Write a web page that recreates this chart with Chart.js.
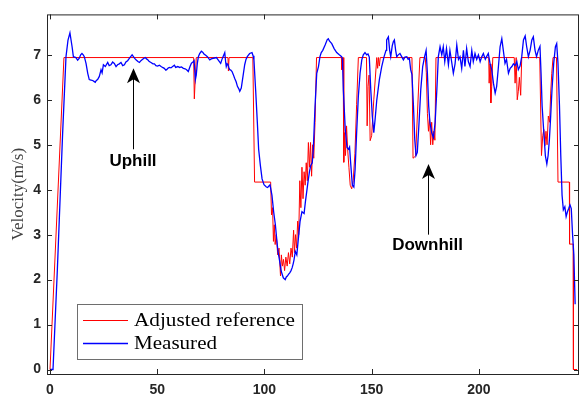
<!DOCTYPE html>
<html>
<head>
<meta charset="utf-8">
<title>Velocity</title>
<script src="https://cdn.jsdelivr.net/npm/chart.js@4.4.1/dist/chart.umd.min.js"></script>
<style>
  html, body { margin: 0; padding: 0; background: #fff; }
</style>
</head>
<body>
<canvas id="velocityChart" width="580" height="397"></canvas>
<script>
// Reference speed (red) - time in s, speed in m/s
const refTime = [
  0, 6.5, 67.0, 67.3, 68.2, 83.0, 83.2, 83.5, 94.6, 95.4,
  102.9, 103.3, 103.8, 104.2, 104.6, 105.0, 105.5, 106.2, 106.8, 107.5,
  107.9, 108.4, 108.9, 109.4, 110.0, 110.6, 111.2, 111.8, 112.4, 113.0,
  113.6, 114.0, 114.5, 115.0, 115.5, 116.0, 116.5, 117.0, 117.5, 118.0,
  118.5, 119.0, 119.5, 120.0, 120.5, 121.0, 121.5, 122.0, 122.5, 123.0,
  123.6, 124.3, 135.9, 136.1, 136.3, 136.7, 137.0, 137.4, 137.8, 138.3,
  138.8, 139.4, 140.0, 140.7, 141.4, 142.2, 143.0, 143.8, 147.6, 147.9,
  148.3, 148.8, 149.3, 150.0, 151.0, 152.4, 152.8, 153.2, 153.6, 154.0,
  168.8, 169.3, 170.5, 172.5, 175.0, 175.5, 176.0, 176.5, 177.0, 177.5,
  178.0, 178.5, 179.0, 179.5, 180.0, 204.6, 204.8, 205.2, 205.6, 206.0,
  206.5, 216.5, 216.9, 217.4, 217.9, 218.4, 218.9, 219.5, 220.0, 228.4,
  229.2, 229.8, 230.3, 230.8, 231.3, 231.8, 232.4, 233.0, 233.5, 234.0,
  234.6, 236.2, 236.9, 242.2, 242.3, 244.0, 244.1, 245.8
];
const refSpeed = [
  0, 6.94, 6.94, 6.02, 6.94, 6.94, 6.64, 6.94, 6.94, 4.17,
  4.17, 3.44, 3.6, 2.85, 3.22, 2.78, 3.0, 2.55, 2.7, 2.08,
  2.55, 2.3, 2.45, 2.2, 2.5, 2.3, 2.6, 2.35, 2.7, 2.5,
  3.1, 2.6, 3.0, 2.7, 3.3, 3.0, 4.2, 3.6, 4.5, 3.8,
  4.4, 4.1, 4.6, 4.2, 5.05, 4.5, 5.05, 4.3, 5.0, 4.7,
  5.5, 6.94, 6.94, 6.67, 6.94, 6.94, 4.61, 5.27, 4.76, 5.42,
  4.9, 4.5, 4.1, 4.02, 4.2, 4.8, 5.9, 6.94, 6.94, 5.42,
  6.3, 6.55, 5.09, 5.2, 6.0, 6.94, 6.7, 6.94, 6.75, 6.94,
  6.94, 4.7, 4.75, 6.94, 6.94, 6.6, 5.7, 5.3, 5.6, 5.0,
  5.5, 5.0, 5.3, 5.1, 6.94, 6.94, 6.37, 6.8, 5.93, 6.3,
  6.94, 6.94, 6.37, 6.94, 6.0, 6.19, 6.5, 6.1, 6.94, 6.94,
  4.76, 5.2, 5.34, 4.98, 5.3, 5.0, 5.64, 5.5, 6.15, 6.59,
  6.94, 6.94, 4.17, 4.17, 2.79, 2.79, 0, 0
];

// Measured speed (blue)
const measTime = [
  0, 1.4, 3.4, 5.9, 7.46, 8.4, 9.3, 10.3, 10.9, 12.1,
  12.9, 13.6, 14.3, 14.9, 15.5, 16.0, 16.8, 17.6, 18.3, 19.1,
  19.9, 20.5, 21.1, 21.6, 22.2, 23.0, 23.8, 24.3, 24.9, 25.8,
  26.9, 27.6, 28.4, 29.2, 30.0, 30.8, 31.5, 32.3, 33.1, 33.9,
  34.7, 35.4, 36.2, 37.0, 37.8, 38.3, 38.9, 39.5, 40.1, 41.0,
  41.7, 42.4, 43.2, 44.0, 44.5, 45.0, 45.6, 46.3, 47.1, 48.0,
  48.7, 49.4, 50.2, 51.0, 51.8, 52.5, 53.3, 54.0, 54.4, 55.0,
  55.6, 56.4, 57.2, 58.0, 58.6, 59.6, 60.4, 61.3, 62.2, 63.0,
  63.7, 64.5, 65.3, 66.0, 66.5, 67.2, 67.8, 68.2, 68.7, 69.2,
  69.8, 70.6, 71.2, 71.8, 72.6, 73.4, 74.0, 74.5, 75.2, 76.0,
  76.8, 77.6, 78.4, 79.0, 79.6, 80.2, 80.7, 81.5, 81.9, 82.2,
  82.6, 83.0, 83.4, 83.8, 84.3, 84.9, 85.5, 86.1, 86.8, 87.4,
  88.0, 88.5, 89.2, 90.0, 90.8, 91.4, 92.0, 93.1, 94.2, 94.7,
  95.1, 95.9, 96.7, 97.3, 98.1, 98.9, 99.8, 100.9, 101.5, 102.0,
  102.6, 103.5, 104.3, 105.1, 105.7, 106.3, 107.1, 107.8, 108.8, 109.7,
  110.2, 110.7, 111.3, 111.8, 112.4, 112.9, 113.4, 113.8, 114.4, 115.1,
  115.7, 116.6, 117.5, 118.5, 119.1, 120.3, 121.0, 121.6, 122.3, 122.8,
  123.6, 124.4, 125.2, 125.9, 126.5, 127.2, 128.3, 129.3, 129.8, 130.3,
  131.4, 132.5, 133.7, 134.9, 136.0, 136.4, 136.8, 137.7, 138.5, 139.2,
  139.7, 140.3, 141.0, 141.7, 142.3, 143.0, 143.8, 144.6, 145.4, 146.1,
  146.9, 147.7, 148.3, 148.9, 149.6, 150.3, 151.0, 151.6, 152.4, 153.6,
  154.7, 155.8, 156.7, 157.0, 157.8, 158.4, 158.9, 159.6, 160.1, 160.6,
  161.2, 161.7, 162.4, 163.2, 164.0, 164.8, 165.5, 166.4, 167.0, 167.6,
  168.2, 168.8, 169.5, 170.1, 170.7, 171.3, 172.1, 172.9, 173.8, 174.7,
  175.4, 176.0, 176.6, 177.2, 178.0, 178.8, 179.6, 180.4, 181.1, 181.9,
  182.7, 183.4, 184.1, 184.9, 185.8, 186.5, 187.2, 188.1, 188.9, 189.7,
  190.5, 191.2, 192.0, 192.8, 193.5, 194.3, 195.1, 195.9, 196.7, 197.4,
  198.2, 199.0, 199.8, 200.6, 201.3, 202.1, 203.0, 203.6, 204.4, 205.2,
  206.0, 206.8, 207.6, 208.3, 209.0, 209.9, 210.7, 211.4, 212.2, 212.9,
  213.8, 214.6, 215.4, 216.1, 216.9, 217.7, 218.4, 219.2, 220.0, 220.8,
  221.6, 222.3, 223.1, 223.9, 224.7, 225.4, 226.2, 226.9, 227.7, 228.5,
  229.0, 229.5, 230.3, 231.0, 231.7, 232.3, 232.9, 233.5, 234.1, 234.9,
  235.7, 236.3, 236.9, 237.6, 238.2, 238.8, 239.4, 240.1, 240.7, 241.3,
  241.9, 242.5, 243.1, 243.7, 244.3, 244.9
];
const measSpeed = [
  0, 0, 2.19, 5.27, 6.96, 7.33, 7.49, 7.18, 6.96, 6.94,
  6.88, 6.92, 7.0, 7.03, 7.0, 6.96, 6.81, 6.59, 6.45, 6.44,
  6.43, 6.41, 6.39, 6.43, 6.45, 6.52, 6.67, 6.6, 6.78, 6.74,
  6.83, 6.76, 6.78, 6.84, 6.81, 6.74, 6.78, 6.8, 6.83, 6.76,
  6.78, 6.84, 6.87, 6.92, 6.97, 7.0, 6.96, 6.92, 6.89, 6.85,
  6.83, 6.87, 6.9, 6.93, 6.94, 6.91, 6.89, 6.85, 6.83, 6.8,
  6.8, 6.76, 6.75, 6.77, 6.74, 6.72, 6.7, 6.66, 6.67, 6.7,
  6.72, 6.71, 6.74, 6.77, 6.72, 6.74, 6.72, 6.73, 6.7, 6.69,
  6.67, 6.63, 6.74, 6.82, 6.83, 6.87, 6.45, 6.55, 6.81, 6.96,
  7.03, 7.08, 7.06, 7.02, 6.99, 6.96, 6.92, 6.89, 6.91, 6.92,
  6.93, 6.94, 6.89, 6.85, 6.81, 6.9, 6.96, 7.05, 6.85, 6.74,
  6.8, 6.78, 6.72, 6.67, 6.66, 6.63, 6.56, 6.48, 6.4, 6.3,
  6.25, 6.19, 6.26, 6.52, 6.78, 6.9, 6.96, 7.03, 7.05, 6.98,
  6.89, 6.22, 5.49, 4.9, 4.54, 4.24, 4.11, 4.06, 4.05, 4.08,
  4.11, 3.88, 3.51, 3.22, 2.92, 2.63, 2.41, 2.19, 2.04, 2.0,
  2.06, 2.08, 2.12, 2.15, 2.2, 2.26, 2.35, 2.44, 2.63, 2.55,
  2.85, 3.29, 3.51, 3.47, 3.73, 4.17, 4.4, 4.54, 4.6, 4.9,
  5.86, 6.59, 6.74, 6.96, 7.05, 7.1, 7.22, 7.34, 7.36, 7.31,
  7.25, 7.14, 7.05, 7.0, 6.96, 6.9, 6.22, 5.34, 4.94, 4.9,
  4.95, 4.54, 4.1, 4.06, 4.46, 5.27, 6.08, 6.59, 6.89, 7.0,
  7.05, 7.0, 7.02, 6.95, 6.22, 5.64, 5.27, 5.56, 6.0, 6.45,
  6.74, 6.96, 7.1, 7.33, 7.4, 7.1, 6.96, 7.2, 7.29, 7.33,
  7.1, 6.96, 7.0, 7.03, 6.96, 6.89, 6.95, 6.96, 6.9, 6.92,
  6.67, 6.56, 5.86, 5.12, 4.76, 4.83, 5.49, 6.22, 6.74, 6.96,
  7.1, 6.59, 5.86, 5.49, 5.27, 5.16, 5.49, 6.22, 6.96, 7.18,
  7.0, 7.18, 6.85, 7.14, 6.78, 7.1, 6.88, 6.59, 6.8, 7.22,
  6.9, 6.96, 6.7, 7.1, 6.74, 7.14, 6.85, 6.74, 7.1, 6.85,
  7.03, 6.9, 7.0, 6.85, 6.95, 7.03, 6.9, 6.96, 7.03, 6.81,
  6.67, 6.37, 6.15, 6.3, 6.67, 7.18, 7.36, 7.1, 6.81, 6.9,
  6.59, 6.7, 6.74, 6.8, 6.76, 6.85, 6.67, 6.75, 6.96, 7.33,
  7.42, 7.18, 6.96, 7.1, 7.33, 7.4, 7.1, 6.96, 7.1, 7.19,
  6.59, 5.86, 5.27, 4.76, 4.57, 4.76, 5.12, 5.64, 6.22, 6.81,
  7.18, 7.25, 6.81, 5.86, 4.76, 3.88, 3.55, 3.62, 3.4, 3.51,
  3.58, 3.66, 3.58, 3.0, 2.55, 1.45
];

const xTicks = [0, 50, 100, 150, 200];
const yTicks = [0, 1, 2, 3, 4, 5, 6, 7];

// Text notes with an arrow pointing at the curve
const notes = [
  { text: "Uphill", x: 38.7, y: 4.63, tipX: 38.9, tipY: 6.70, tailY: 4.90 },
  { text: "Downhill", x: 176.1, y: 2.76, tipX: 176.2, tipY: 4.57, tailY: 3.0 },
];

const axisColor = "#262626";

function toPoints(times, values) {
  return times.map((t, i) => ({ x: t, y: values[i] }));
}

// Box around the plot with ticks pointing inward on all four sides
const boxPlugin = {
  id: "box",
  afterDraw(chart) {
    const { ctx, chartArea: a, scales } = chart;
    const len = 5;
    ctx.save();
    ctx.strokeStyle = axisColor;
    ctx.lineWidth = 1;
    ctx.beginPath();
    xTicks.forEach((v) => {
      const px = Math.round(scales.x.getPixelForValue(v)) + 0.5;
      ctx.moveTo(px, a.bottom);
      ctx.lineTo(px, a.bottom - len);
      ctx.moveTo(px, a.top);
      ctx.lineTo(px, a.top + len);
    });
    yTicks.forEach((v) => {
      const py = Math.round(scales.y.getPixelForValue(v)) + 0.5;
      ctx.moveTo(a.left, py);
      ctx.lineTo(a.left + len, py);
      ctx.moveTo(a.right, py);
      ctx.lineTo(a.right - len, py);
    });
    ctx.stroke();
    ctx.strokeRect(a.left + 0.5, a.top + 0.5, a.right - a.left - 1, a.bottom - a.top);
    ctx.restore();
  },
};

// Arrows and bold labels
const notesPlugin = {
  id: "notes",
  afterDatasetsDraw(chart) {
    const { ctx, scales } = chart;
    ctx.save();
    notes.forEach((n) => {
      const x = Math.round(scales.x.getPixelForValue(n.tipX)) + 0.5;
      const tip = scales.y.getPixelForValue(n.tipY);
      const tail = scales.y.getPixelForValue(n.tailY);
      ctx.strokeStyle = "#000";
      ctx.lineWidth = 1;
      ctx.beginPath();
      ctx.moveTo(x, tail);
      ctx.lineTo(x, tip + 8);
      ctx.stroke();
      ctx.fillStyle = "#000";
      ctx.beginPath();
      ctx.moveTo(x, tip);
      ctx.lineTo(x + 6.5, tip + 15);
      ctx.lineTo(x, tip + 11);
      ctx.lineTo(x - 6.5, tip + 15);
      ctx.closePath();
      ctx.fill();

      ctx.font = "bold 17px 'Liberation Sans', Arial, sans-serif";
      ctx.textAlign = "center";
      ctx.textBaseline = "middle";
      ctx.fillText(n.text, scales.x.getPixelForValue(n.x), scales.y.getPixelForValue(n.y));
    });
    ctx.restore();
  },
};

// Legend in the lower left corner of the plot
const legendPlugin = {
  id: "boxLegend",
  afterDraw(chart) {
    const { ctx } = chart;
    const left = 77, top = 304, w = 225, h = 55;
    const widths = [161, 83];
    ctx.save();
    ctx.fillStyle = "#fff";
    ctx.fillRect(left, top, w, h);
    ctx.strokeStyle = "#6e6e6e";
    ctx.lineWidth = 1;
    ctx.strokeRect(left + 0.5, top + 0.5, w, h);
    ctx.font = "18px 'Liberation Serif', 'Times New Roman', serif";
    ctx.textBaseline = "middle";
    ctx.textAlign = "left";
    chart.data.datasets.forEach((ds, i) => {
      const y = 320 + i * 23;
      ctx.strokeStyle = ds.borderColor;
      ctx.lineWidth = ds.borderWidth;
      ctx.beginPath();
      ctx.moveTo(83, y + 0.5);
      ctx.lineTo(128, y + 0.5);
      ctx.stroke();
      const natural = ctx.measureText(ds.label).width;
      ctx.save();
      ctx.translate(134, y);
      ctx.scale(widths[i] / natural, 1);
      ctx.fillStyle = "#000";
      ctx.fillText(ds.label, 0, 1);
      ctx.restore();
    });
    ctx.restore();
  },
};

function loadVelocityChart() {
  const ctx = document.getElementById("velocityChart").getContext("2d");
  const tickFont = { family: "'Liberation Sans', Arial, sans-serif", weight: "bold", size: 14 };

  new Chart(ctx, {
    type: "line",
    data: {
      datasets: [
        {
          label: "Adjusted reference",
          data: toPoints(refTime, refSpeed),
          borderColor: "#ff0000",
          borderWidth: 1,
          pointRadius: 0,
          tension: 0,
          order: 1,
        },
        {
          label: "Measured",
          data: toPoints(measTime, measSpeed),
          borderColor: "#0000ff",
          borderWidth: 1.3,
          pointRadius: 0,
          tension: 0,
          order: 0,
        },
      ],
    },
    options: {
      responsive: false,
      animation: false,
      devicePixelRatio: 1,
      layout: { padding: { top: 11, right: 1, left: 0, bottom: 0 } },
      plugins: {
        legend: { display: false },
        tooltip: { enabled: false },
      },
      scales: {
        x: {
          type: "linear",
          min: -1.4,
          max: 246.7,
          afterBuildTicks: (scale) => {
            scale.ticks = xTicks.map((v) => ({ value: v }));
          },
          afterFit: (scale) => {
            scale.height = 23;
          },
          grid: { display: false, drawTicks: false },
          border: { display: false },
          ticks: { font: tickFont, color: axisColor, padding: 8, maxRotation: 0, autoSkip: false },
        },
        y: {
          type: "linear",
          min: -0.1,
          max: 7.9,
          afterBuildTicks: (scale) => {
            scale.ticks = yTicks.map((v) => ({ value: v }));
          },
          afterFit: (scale) => {
            scale.width = 47;
          },
          grid: { display: false, drawTicks: false },
          border: { display: false },
          ticks: { font: tickFont, color: axisColor, padding: 6, autoSkip: false },
          title: {
            display: true,
            text: "Velocity(m/s)",
            color: "#404040",
            font: { family: "'Liberation Serif', 'Times New Roman', serif", size: 17 },
            padding: { top: 8, bottom: 0 },
          },
        },
      },
    },
    plugins: [notesPlugin, boxPlugin, legendPlugin],
  });
}

document.addEventListener("DOMContentLoaded", loadVelocityChart);
</script>
</body>
</html>
